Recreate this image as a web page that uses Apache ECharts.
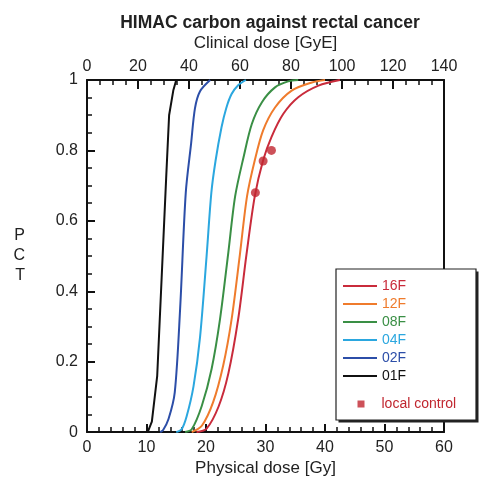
<!DOCTYPE html>
<html>
<head>
<meta charset="utf-8">
<script src="https://cdn.jsdelivr.net/npm/echarts@6/dist/echarts.min.js"></script>
<style>
  html, body { margin: 0; padding: 0; background: #fff; }
  #chart { width: 483px; height: 482px; }
</style>
</head>
<body>
<div id="chart"></div>
<script>
// TCP curves, [physical dose Gy, TCP]
var f16 = [[18.4,0],[20.1,0.01],[22.1,0.072],[23.75,0.166],[25.4,0.32],[26.8,0.504],[28.2,0.67],[29.6,0.772],[31.0,0.838],[33.0,0.904],[35.5,0.951],[38.9,0.984],[42.5,1]];
var f12 = [[17.6,0],[19.3,0.018],[21.2,0.085],[22.9,0.19],[24.3,0.32],[25.7,0.505],[26.9,0.67],[28.2,0.772],[29.6,0.857],[31.6,0.922],[34.4,0.97],[37.8,0.993],[40,1]];
var f08 = [[16.5,0],[17.6,0.008],[19.3,0.075],[20.95,0.18],[22.35,0.32],[23.75,0.51],[24.9,0.67],[26.3,0.78],[27.7,0.875],[29.4,0.937],[31.6,0.979],[33.8,0.996],[35.5,1]];
var f04 = [[15.0,0],[15.9,0.008],[16.75,0.045],[17.9,0.13],[19.0,0.27],[20.1,0.5],[20.9,0.68],[21.6,0.77],[22.6,0.865],[23.4,0.92],[24.3,0.96],[25.4,0.985],[26.7,1]];
var f02 = [[12.3,0],[12.8,0.006],[13.7,0.037],[14.75,0.113],[15.65,0.35],[16.6,0.68],[17.5,0.82],[18.15,0.92],[19.0,0.968],[20.7,1]];
var f01 = [[10.2,0],[10.9,0.03],[11.8,0.16],[12.55,0.44],[13.3,0.72],[13.8,0.9],[14.5,0.97],[15.0,1]];
var localControl = [[28.3,0.68],[29.6,0.77],[31.0,0.80]];

var names = ["16F", "12F", "08F", "04F", "02F", "01F"];
var colors = ["#c92b3b", "#ef7b2c", "#3a8f45", "#2ba7df", "#2c4ea8", "#111111"];
var curves = [f16, f12, f08, f04, f02, f01];
var dotColor = "#c0262f";

var FONT = "Liberation Sans, Arial, sans-serif";

var chart = echarts.init(document.getElementById("chart"));

var series = curves.map(function (d, i) {
  return {
    name: names[i],
    type: "line",
    data: d,
    symbol: "none",
    smooth: i === 5 ? false : 0.3,
    lineStyle: { color: colors[i], width: 2 },
    itemStyle: { color: colors[i] },
    z: 3
  };
});
series.push({
  name: "local control",
  type: "scatter",
  data: localControl,
  symbol: "circle",
  symbolSize: 9,
  itemStyle: { color: dotColor },
  z: 5
});

function axisBase() {
  return {
    type: "value",
    axisLine: { show: true, onZero: false, lineStyle: { color: "#111", width: 2 } },
    axisTick: { show: true, inside: true, length: 8, lineStyle: { color: "#111", width: 2 } },
    minorTick: { show: true, length: 5, lineStyle: { color: "#111", width: 1.5 } },
    splitLine: { show: false },
    axisLabel: { color: "#222", fontSize: 16, fontFamily: FONT },
    nameTextStyle: { color: "#222", fontSize: 17, fontFamily: FONT }
  };
}

var xBottom = Object.assign(axisBase(), {
  position: "bottom", min: 0, max: 60, interval: 10,
  name: "Physical dose [Gy]", nameLocation: "middle", nameGap: 26
});
xBottom.minorTick.splitNumber = 5;
xBottom.axisLabel.margin = 7;

var xTop = Object.assign(axisBase(), {
  position: "top", min: 0, max: 140, interval: 20,
  name: "Clinical dose [GyE]", nameLocation: "middle", nameGap: 28
});
xTop.minorTick.splitNumber = 4;
xTop.axisLabel.margin = 5;
xTop.axisTick.length = 9;

var yLeft = Object.assign(axisBase(), {
  position: "left", min: 0, max: 1, interval: 0.2,
  name: "P\nC\nT", nameLocation: "middle", nameRotate: 0, nameGap: 62
});
yLeft.minorTick.splitNumber = 4;
yLeft.axisLabel.margin = 9;
yLeft.nameTextStyle.fontSize = 16;
yLeft.nameTextStyle.lineHeight = 20;
yLeft.nameTextStyle.padding = [0, 0, 28, 0];

var yRight = {
  type: "value", position: "right", min: 0, max: 1,
  axisLine: { show: true, onZero: false, lineStyle: { color: "#111", width: 2 } },
  axisTick: { show: false }, axisLabel: { show: false }, splitLine: { show: false }
};

var legendData = names.map(function (n, i) {
  return { name: n, textStyle: { color: colors[i] } };
});

chart.setOption({
  animation: false,
  backgroundColor: "#fff",
  title: {
    text: "HIMAC carbon against rectal cancer",
    left: 265, top: 9, textAlign: "center",
    textStyle: { fontSize: 17.5, fontWeight: "bold", color: "#222", fontFamily: FONT }
  },
  grid: { left: 87, right: 39, top: 80, bottom: 47 },
  xAxis: [xBottom, xTop],
  yAxis: [yLeft, yRight],
  graphic: [{
    type: "rect", z: 100,
    shape: { x: 338.5, y: 271.5, width: 140, height: 151 },
    style: { fill: "#222" }
  }, {
    type: "rect", z: 101,
    shape: { x: 336, y: 269, width: 140, height: 151 },
    style: { fill: "#fff", stroke: "#222", lineWidth: 1.2 }
  }],
  legend: [{
    orient: "vertical", left: 343, top: 279, padding: 0, z: 110,
    itemWidth: 34, itemHeight: 2, itemGap: 4, icon: "rect",
    textStyle: { fontSize: 14, lineHeight: 14, fontFamily: FONT },
    data: legendData
  }, {
    orient: "vertical", left: 357.5, top: 397, padding: 0, z: 110,
    itemWidth: 7, itemHeight: 7, icon: "rect",
    textStyle: { fontSize: 14, lineHeight: 14, fontFamily: FONT, color: dotColor, padding: [0, 0, 0, 12] },
    data: ["local control"]
  }],
  series: series
});
</script>
</body>
</html>
